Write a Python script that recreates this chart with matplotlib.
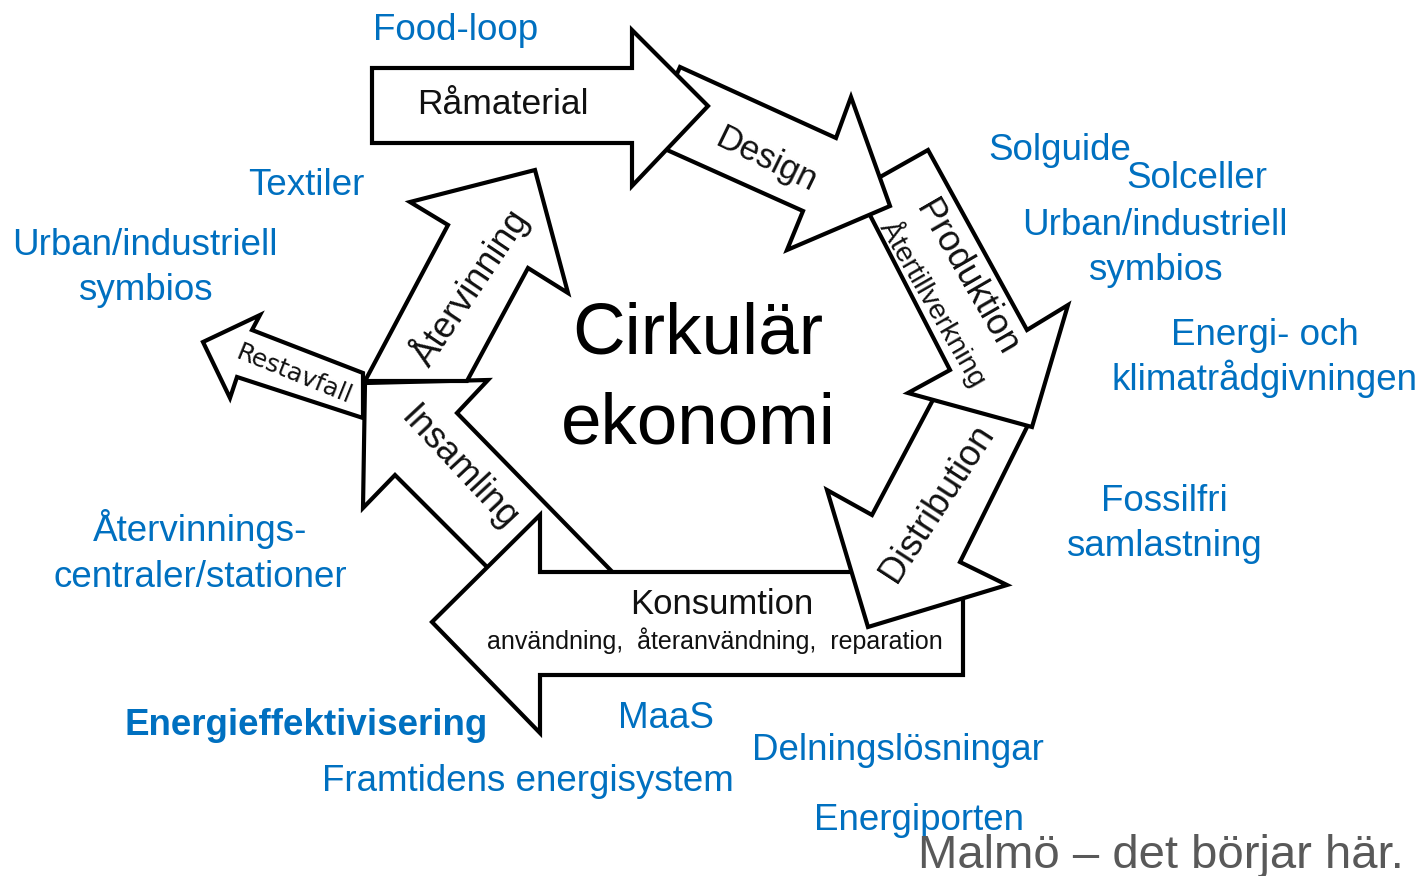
import matplotlib
matplotlib.use("Agg")
import matplotlib.pyplot as plt
from matplotlib.patches import Polygon

plt.rcParams['font.family'] = ['Liberation Sans', 'DejaVu Sans']

BLUE = '#0070C0'
GREY = '#595959'

# arrow outlines (pixel coords, y down), drawn in this order
arrow_insamling = [(365, 383), (488, 380), (457, 413), (630, 590), (520, 600), (395, 475), (363, 508)]
arrow_konsumtion = [(963, 572), (540, 572), (540, 515), (432, 622), (540, 733), (540, 675), (963, 675)]
arrow_distribution = [(935, 396), (1030, 421), (960, 562), (1007, 585), (868, 627), (827, 490), (872, 515)]
arrow_produktion = [(857, 190), (928, 150), (1027, 330), (1068, 305), (1032, 427), (908, 393), (950, 370)]
arrow_design = [(680, 67), (836, 138), (851, 97), (890, 206), (787, 250), (803, 211), (647, 141)]
arrow_ramaterial = [(372, 68), (632, 68), (632, 30), (708, 106), (632, 186), (632, 143), (372, 143)]
arrow_atervinning = [(365, 381), (448, 225), (410, 202), (535, 170), (568, 293), (528, 268), (467, 381)]
arrow_restavfall = [(363, 373), (252, 330), (260, 315), (203, 342), (230, 398), (237, 377), (363, 418)]

arrows = [arrow_insamling, arrow_konsumtion, arrow_distribution, arrow_produktion,
          arrow_design, arrow_ramaterial, arrow_atervinning, arrow_restavfall]

# labels inside the arrows: text, x, y, rotation, size, family
arrow_labels = [
    ('Råmaterial', 503, 105, 0, 25.5, 'Liberation Sans'),
    ('Design', 766, 160, -26, 25, 'Liberation Sans'),
    ('Produktion', 966, 278, -60, 26, 'Liberation Sans'),
    ('Återtillverkning', 934, 303, -60, 20.5, 'Liberation Sans'),
    ('Distribution', 937, 503, 57, 26, 'Liberation Sans'),
    ('Konsumtion', 722, 604, 0, 25, 'Liberation Sans'),
    ('användning,  återanvändning,  reparation', 715, 641, 0, 18, 'Liberation Sans'),
    ('Insamling', 459, 468, -47, 26, 'Liberation Sans'),
    ('Återvinning', 470, 287, 56, 26, 'Liberation Sans'),
    ('Restavfall', 294, 374, -22, 18, 'DejaVu Sans'),
]

# blue surrounding labels: text, x centre, baseline y
blue_labels = ['Food-loop', 'Textiler', 'Urban/industriell', 'symbios', 'Solguide', 'Solceller',
               'Urban/industriell', 'symbios', 'Energi- och', 'klimatrådgivningen', 'Fossilfri',
               'samlastning', 'Återvinnings-', 'centraler/stationer', 'MaaS',
               'Framtidens energisystem', 'Delningslösningar', 'Energiporten']
blue_x = [456, 306, 145, 145, 1060, 1197, 1155, 1155, 1265, 1265, 1164, 1164, 200, 200, 666,
          528, 898, 919]
blue_y = [40, 195, 255, 300, 160, 188, 235, 280, 345, 390, 511, 556, 541, 587, 728, 791, 760, 830]

fig = plt.figure(figsize=(14.25, 8.76), dpi=100)
ax = fig.add_axes([0, 0, 1, 1])
ax.set_xlim(0, 1425)
ax.set_ylim(876, 0)
ax.axis('off')

for pts in arrows:
    ax.add_patch(Polygon(pts, closed=True, facecolor='white', edgecolor='black',
                         lw=3, joinstyle='miter'))

for txt, x, y, rot, size, fam in arrow_labels:
    ax.text(x, y, txt, ha='center', va='center', rotation=rot, rotation_mode='anchor',
            fontsize=size, family=[fam, 'DejaVu Sans'], color='#111111')

ax.text(698, 353, 'Cirkulär', ha='center', va='baseline', fontsize=52.5, color='black')
ax.text(698, 443, 'ekonomi', ha='center', va='baseline', fontsize=52.5, color='black')

for txt, x, y in zip(blue_labels, blue_x, blue_y):
    ax.text(x, y, txt, ha='center', va='baseline', fontsize=26.5, color=BLUE)

ax.text(306, 735, 'Energieffektivisering', ha='center', va='baseline', fontsize=26.5,
        fontweight='bold', color=BLUE)
ax.text(1161, 868, 'Malmö – det börjar här.', ha='center', va='baseline', fontsize=34,
        color=GREY)

fig.savefig('out.png', dpi=100)
